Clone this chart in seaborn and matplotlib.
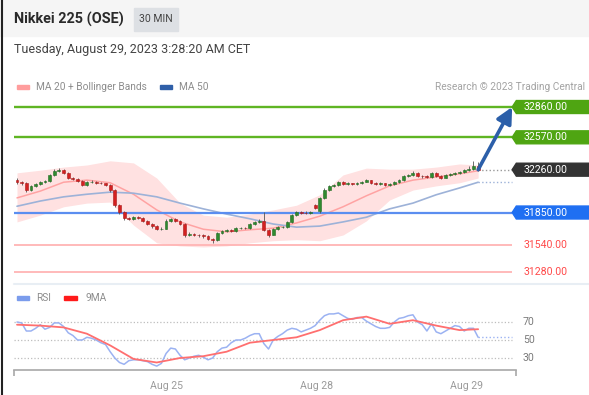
import numpy as np
import matplotlib
matplotlib.use("Agg")
import matplotlib.pyplot as plt
from matplotlib.patches import Polygon, Rectangle
import seaborn as sns

# ---- data (30 min bars, Aug 24 -> Aug 29) ----
opens = [32165, 32140, 32130, 32065, 32105, 32125, 32140, 32150, 32210, 32250,
         32255, 32230, 32180, 32170, 32150, 32115, 32140, 32145, 32135, 32130,
         32115, 32065, 31920, 31855, 31795, 31790, 31805, 31800, 31770, 31740,
         31720, 31690, 31695, 31770, 31790, 31765, 31740, 31635, 31645, 31635,
         31630, 31625, 31595, 31585, 31655, 31675, 31685, 31675, 31700, 31705,
         31700, 31740, 31760, 31770, 31680, 31635, 31690, 31710, 31715, 31760,
         31825, 31855, 31850, 31845, 31920, 31860, 31985, 32070, 32100, 32115,
         32140, 32125, 32130, 32120, 32135, 32145, 32160, 32130, 32125, 32130,
         32110, 32120, 32140, 32160, 32200, 32210, 32230, 32200, 32195, 32190,
         32225, 32200, 32185, 32210, 32220, 32225, 32240, 32255, 32265, 32300]
highs = [32185, 32150, 32140, 32115, 32135, 32150, 32165, 32220, 32265, 32275,
         32265, 32235, 32190, 32180, 32160, 32150, 32160, 32155, 32145, 32135,
         32125, 32075, 31930, 31865, 31810, 31820, 31815, 31810, 31780, 31750,
         31730, 31710, 31785, 31800, 31800, 31775, 31750, 31660, 31655, 31645,
         31640, 31635, 31605, 31665, 31685, 31695, 31690, 31710, 31715, 31715,
         31750, 31770, 31785, 31855, 31690, 31700, 31720, 31725, 31770, 31835,
         31865, 31865, 31860, 31865, 31930, 31995, 32080, 32110, 32125, 32150,
         32150, 32140, 32135, 32145, 32155, 32170, 32165, 32140, 32140, 32135,
         32130, 32150, 32170, 32210, 32220, 32245, 32240, 32210, 32205, 32235,
         32235, 32205, 32220, 32230, 32240, 32250, 32270, 32300, 32345, 32330]
lows = [32125, 32110, 32050, 32055, 32095, 32115, 32130, 32140, 32200, 32240,
        32220, 32170, 32160, 32140, 32105, 32105, 32130, 32125, 32120, 32105,
        32050, 31905, 31840, 31780, 31775, 31780, 31785, 31760, 31730, 31705,
        31680, 31680, 31690, 31760, 31755, 31730, 31620, 31625, 31625, 31615,
        31610, 31585, 31560, 31580, 31645, 31665, 31665, 31665, 31690, 31690,
        31695, 31735, 31750, 31670, 31615, 31630, 31680, 31700, 31705, 31750,
        31815, 31840, 31835, 31840, 31885, 31850, 31975, 32060, 32095, 32105,
        32115, 32115, 32110, 32115, 32125, 32140, 32125, 32115, 32115, 32100,
        32100, 32110, 32130, 32150, 32190, 32200, 32190, 32185, 32180, 32180,
        32190, 32175, 32180, 32200, 32210, 32220, 32230, 32245, 32255, 32250]
closes = [32140, 32130, 32065, 32105, 32125, 32140, 32150, 32210, 32250, 32255,
          32230, 32180, 32170, 32150, 32115, 32140, 32145, 32135, 32130, 32115,
          32065, 31920, 31855, 31795, 31790, 31805, 31800, 31770, 31740, 31720,
          31690, 31695, 31770, 31790, 31765, 31740, 31635, 31645, 31635, 31630,
          31625, 31595, 31585, 31655, 31675, 31685, 31675, 31700, 31705, 31700,
          31740, 31760, 31770, 31680, 31635, 31690, 31710, 31715, 31760, 31825,
          31855, 31850, 31845, 31855, 31895, 31985, 32070, 32100, 32115, 32140,
          32125, 32130, 32120, 32135, 32145, 32160, 32130, 32125, 32130, 32110,
          32120, 32140, 32160, 32200, 32210, 32230, 32200, 32195, 32190, 32225,
          32200, 32185, 32210, 32220, 32225, 32240, 32255, 32265, 32300, 32260]

# indicator readings (every 5th bar)
ma_idx = [0, 5, 10, 15, 20, 25, 30, 35, 40, 45, 50, 55, 60, 65, 70, 75, 80, 85, 90, 95, 99]
ma20 = [31990, 32055, 32140, 32160, 32135, 32025, 31875, 31760, 31690, 31665, 31685,
        31700, 31750, 31815, 31905, 32010, 32105, 32160, 32190, 32220, 32250]
bb_upper = [32230, 32255, 32285, 32305, 32345, 32325, 32180, 31940, 31825, 31805, 31835,
            31875, 31920, 32020, 32210, 32275, 32265, 32265, 32285, 32315, 32305]
bb_lower = [31760, 31825, 31905, 31940, 31950, 31730, 31560, 31530, 31520, 31530, 31560,
            31580, 31590, 31580, 31635, 31770, 31970, 32065, 32105, 32135, 32180]
ma50 = [31910, 31960, 32000, 32025, 32045, 32035, 32000, 31940, 31885, 31835, 31790,
        31740, 31710, 31720, 31760, 31805, 31885, 31940, 32020, 32085, 32140]

rsi = [70, 69, 60, 60, 63, 67, 62, 64, 69, 69, 65, 58, 55, 50, 50, 53, 52, 50, 47, 45,
       37, 30, 25, 23, 27, 28, 28, 27, 26, 23, 21, 24, 35, 41, 40, 33, 28, 30, 32, 33,
       31, 28, 30, 37, 41, 42, 47, 50, 50, 52, 55, 57, 57, 46, 40, 50, 54, 57, 61, 63,
       62, 59, 61, 63, 66, 72, 77, 79, 79, 80, 77, 74, 73, 75, 75, 71, 68, 65, 63, 63,
       64, 70, 74, 75, 77, 78, 70, 67, 60, 68, 59, 57, 60, 63, 66, 65, 60, 63, 63, 53]
rsi_ma9 = [67, 66, 64, 57, 44, 29, 25, 30, 32, 37, 47, 50, 53, 61, 72, 76, 68, 72, 66, 61, 62]

resistances = [32860, 32570]
pivot = 32260
support_blue = 31850
supports_red = [31540, 31280]
rsi_levels = [70, 50, 30]
tick_pos = [32.0, 64.4, 96.6]
tick_labels = ["Aug 25", "Aug 28", "Aug 29"]

sns.set_theme(style="white")
plt.rcParams["font.family"] = ["Roboto", "DejaVu Sans"]

W, H = 589, 395
fig = plt.figure(figsize=(W / 100, H / 100), dpi=100)


def box(x0, y0, x1, y1):
    return [x0 / W, 1 - y1 / H, (x1 - x0) / W, (y1 - y0) / H]


def ftext(x, y, s, **kw):
    fig.text(x / W, 1 - y / H, s, **kw)


# header
fig.patches.append(Rectangle((0, 1 - 36 / H), 1, 36 / H, transform=fig.transFigure,
                             color="#f5f5f5", zorder=0))
fig.patches.append(Rectangle((134 / W, 1 - 31 / H), 44 / W, 23 / H, transform=fig.transFigure,
                             color="#dde0e4", zorder=1))
fig.add_artist(plt.Line2D([2 / W, 2 / W], [0, 1], color="#222222", lw=1.5))
ftext(14, 19.5, "Nikkei 225 (OSE)", fontsize=10.4, fontweight="bold", color="#2a2a2a", va="center")
ftext(156, 19.5, "30 MIN", fontsize=7.5, color="#444444", va="center", ha="center")
ftext(14, 49, "Tuesday, August 29, 2023 3:28:20 AM CET", fontsize=9, color="#444444", va="center")

# legends
fig.patches.append(Rectangle((17 / W, 1 - 89 / H), 12 / W, 4 / H, transform=fig.transFigure, color="#ff9d9d"))
ftext(36, 87, "MA 20 + Bollinger Bands", fontsize=7.3, color="#8c8c8c", va="center")
fig.patches.append(Rectangle((160 / W, 1 - 89 / H), 12 / W, 4 / H, transform=fig.transFigure, color="#2f5fa8"))
ftext(179, 87, "MA 50", fontsize=7.3, color="#8c8c8c", va="center")
ftext(585, 87, "Research \u00a9 2023 Trading Central", fontsize=7.3, color="#a3a3a3", va="center", ha="right")
fig.add_artist(plt.Line2D([14 / W, 1], [1 - 284 / H] * 2, color="#e8eef4", lw=1.5))
fig.patches.append(Rectangle((17 / W, 1 - 300 / H), 12 / W, 4 / H, transform=fig.transFigure, color="#7b9cec"))
ftext(36, 298, "RSI", fontsize=7.3, color="#8c8c8c", va="center")
fig.patches.append(Rectangle((64 / W, 1 - 300 / H), 13 / W, 4 / H, transform=fig.transFigure, color="#ff1a1a"))
ftext(85, 298, "9MA", fontsize=7.3, color="#8c8c8c", va="center")

x_left, x_end, x_right = -0.644, 106.3, 122.8

# ---- price panel ----
ax = fig.add_axes(box(14, 95, 589, 280))
ax.set_xlim(x_left, x_right)
ax.set_ylim(31204, 32975)
ax.axis("off")

ax.fill_between(ma_idx, bb_lower, bb_upper, color="#ffe1e1", lw=0, zorder=1)
sns.lineplot(x=ma_idx, y=ma20, ax=ax, color="#ffa3a3", lw=1.1, zorder=2)
sns.lineplot(x=ma_idx, y=ma50, ax=ax, color="#9db2d8", lw=1.2, zorder=2)

for lvl in resistances:
    ax.hlines(lvl, x_left, x_end, color="#5fb523", lw=1.7, zorder=3)
ax.hlines(support_blue, x_left, x_end, color="#5b8ef0", lw=1.6, zorder=3)
for lvl in supports_red:
    ax.hlines(lvl, x_left, x_end, color="#ffb4b4", lw=1.3, zorder=3)

idx = np.arange(len(closes))
o, h, l, c = map(np.array, (opens, highs, lows, closes))
up = c >= o
ax.vlines(idx, l, h, color="#555555", lw=0.6, zorder=4)
body = np.where(np.abs(c - o) < 4, 4, c - o)
ax.bar(idx[up], body[up], bottom=o[up], width=0.62, color="#2f8a2f", edgecolor="#226b22", lw=0.4, zorder=5)
ax.bar(idx[~up], body[~up], bottom=o[~up], width=0.62, color="#d42020", edgecolor="#a81818", lw=0.4, zorder=5)

ax.plot([idx[-1], x_end], [closes[-1]] * 2, ls=":", color="#999999", lw=1, zorder=3)
ax.plot([idx[-1], x_end], [ma50[-1]] * 2, ls=":", color="#9db2d8", lw=1, zorder=3)
ax.annotate("", xy=(x_end, resistances[0]), xytext=(idx[-1], closes[-1]),
            arrowprops=dict(arrowstyle="-|>,head_length=0.8,head_width=0.4", color="#2c5fa9",
                            lw=2.6, shrinkA=0, shrinkB=0), zorder=6)

half = 62


def tag(level, face):
    pts = [(x_end, level), (x_end + 0.9, level + half), (x_right, level + half),
           (x_right, level - half), (x_end + 0.9, level - half)]
    ax.add_patch(Polygon(pts, closed=True, color=face, clip_on=False, zorder=6))
    ax.text(108.8, level, f"{level:.2f}", color="white", fontsize=7.6, va="center", zorder=7)


for lvl in resistances:
    tag(lvl, "#4fa512")
tag(pivot, "#333333")
tag(support_blue, "#1f6ff2")
for lvl in supports_red:
    ax.text(108.8, lvl, f"{lvl:.2f}", color="#ff4a4a", fontsize=7.6, va="center")

# ---- RSI panel ----
ax2 = fig.add_axes(box(14, 305, 589, 370))
ax2.set_xlim(x_left, x_right)
ax2.set_ylim(16.67, 88.9)
for s in ["top", "right", "left"]:
    ax2.spines[s].set_visible(False)
ax2.spines["bottom"].set_bounds(x_left, 107.15)
ax2.spines["bottom"].set_color("#a8a8a8")
ax2.spines["bottom"].set_linewidth(1.2)
ax2.set_yticks([])
ax2.set_xticks(tick_pos, tick_labels)
ax2.set_xticks([x_left, 107.15], minor=True)
ax2.tick_params(axis="x", which="major", length=0, pad=8, labelsize=7.6, labelcolor="#9a9a9a")
ax2.tick_params(axis="x", which="minor", length=4, width=1.2, color="#a8a8a8", bottom=True, direction="out")
ax2.set_facecolor("none")

for lvl in rsi_levels:
    ax2.hlines(lvl, x_left, x_end, color="#bdbdbd", ls=":", lw=0.9)
    ax2.text(108.6, lvl, str(lvl), color="#7a7a7a", fontsize=7.6, va="center")
sns.lineplot(x=idx, y=rsi, ax=ax2, color="#9bb2f2", lw=1.1)
sns.lineplot(x=ma_idx, y=rsi_ma9, ax=ax2, color="#ff6f6f", lw=1.3)
ax2.plot([idx[-1], x_end], [rsi[-1]] * 2, ls=":", color="#9bb2f2", lw=1)
ax2.set_xlabel("")
ax2.set_ylabel("")

fig.savefig("out.png", dpi=100)
